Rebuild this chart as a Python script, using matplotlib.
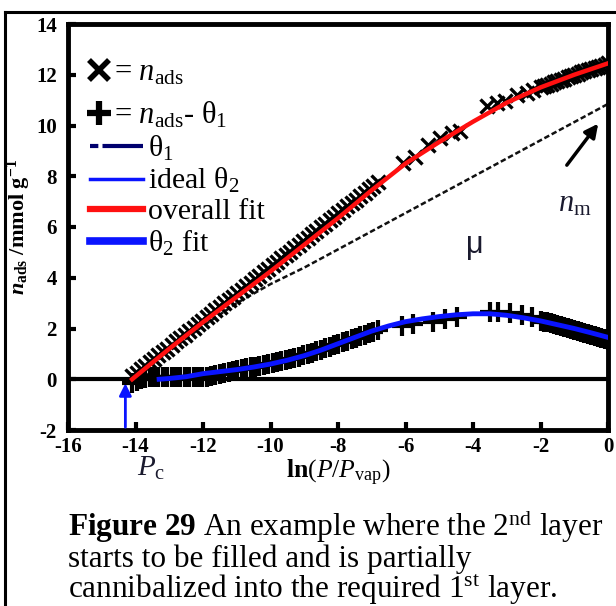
import matplotlib
matplotlib.use("Agg")
import matplotlib.pyplot as plt
from matplotlib.lines import Line2D
import numpy as np

plt.rcParams['font.family'] = ['Liberation Serif', 'DejaVu Serif']
plt.rcParams['mathtext.fontset'] = 'custom'
plt.rcParams['mathtext.rm'] = 'Liberation Serif'
plt.rcParams['mathtext.it'] = 'Liberation Serif:italic'
plt.rcParams['mathtext.bf'] = 'Liberation Serif:bold'
plt.rcParams['mathtext.bfit'] = 'Liberation Serif:italic:bold'

# n_ads (x markers), dense low-pressure run, a few sparse points, dense run near P_vap
nads_x = [-14.10, -13.97, -13.84, -13.71, -13.58, -13.45, -13.32, -13.19, -13.06, -12.93,
          -12.80, -12.67, -12.54, -12.41, -12.28, -12.15, -12.02, -11.89, -11.76, -11.63,
          -11.50, -11.37, -11.24, -11.11, -10.98, -10.85, -10.72, -10.59, -10.46, -10.33,
          -10.20, -10.07, -9.94, -9.81, -9.68, -9.55, -9.42, -9.29, -9.16, -9.03,
          -8.90, -8.77, -8.64, -8.51, -8.38, -8.25, -8.12, -7.99, -7.86, -7.73,
          -7.60, -7.47, -7.34, -7.21, -7.08, -6.95, -6.82,
          -6.07, -5.72, -5.33, -4.98, -4.62, -4.39, -3.59, -3.29, -3.05, -2.70, -2.40, -2.22,
          -2.0, -1.9, -1.8, -1.7, -1.6, -1.5, -1.4, -1.3, -1.2, -1.1, -1.0,
          -0.9, -0.8, -0.7, -0.6, -0.5, -0.4, -0.3, -0.2, -0.1, 0.0]
nads_y = [0.12, 0.26, 0.39, 0.53, 0.67, 0.80, 0.94, 1.08, 1.21, 1.35,
          1.49, 1.62, 1.76, 1.89, 2.03, 2.17, 2.30, 2.44, 2.58, 2.71,
          2.85, 2.99, 3.12, 3.26, 3.40, 3.53, 3.67, 3.81, 3.94, 4.08,
          4.22, 4.35, 4.49, 4.62, 4.76, 4.90, 5.03, 5.17, 5.31, 5.44,
          5.58, 5.72, 5.85, 5.99, 6.13, 6.26, 6.40, 6.54, 6.67, 6.81,
          6.95, 7.08, 7.22, 7.35, 7.49, 7.63, 7.76,
          8.54, 8.74, 9.25, 9.50, 9.70, 9.80, 10.75, 10.87, 10.98, 11.20, 11.30, 11.40,
          11.50, 11.55, 11.60, 11.65, 11.70, 11.75, 11.80, 11.85, 11.90, 11.95, 12.00,
          12.04, 12.09, 12.13, 12.18, 12.22, 12.27, 12.31, 12.36, 12.40, 12.45]

# n_ads - theta_1 (+ markers)
diff_x = [-14.10, -13.97, -13.84, -13.71, -13.58, -13.45, -13.32, -13.19, -13.06, -12.93,
          -12.80, -12.67, -12.54, -12.41, -12.28, -12.15, -12.02, -11.89, -11.76, -11.63,
          -11.50, -11.37, -11.24, -11.11, -10.98, -10.85, -10.72, -10.59, -10.46, -10.33,
          -10.20, -10.07, -9.94, -9.81, -9.68, -9.55, -9.42, -9.29, -9.16, -9.03,
          -8.90, -8.77, -8.64, -8.51, -8.38, -8.25, -8.12, -7.99, -7.86, -7.73,
          -7.60, -7.47, -7.34, -7.21, -7.08, -6.95, -6.82,
          -6.10, -5.78, -5.19, -4.83, -4.47, -3.50, -3.26, -2.90, -2.55, -2.25,
          -2.0, -1.9, -1.8, -1.7, -1.6, -1.5, -1.4, -1.3, -1.2, -1.1, -1.0,
          -0.9, -0.8, -0.7, -0.6, -0.5, -0.4, -0.3, -0.2, -0.1, 0.0]
diff_y = [-0.15, -0.08, 0.00, 0.05, 0.08, 0.10, 0.10, 0.10, 0.10, 0.10,
          0.10, 0.10, 0.10, 0.10, 0.10, 0.10, 0.10, 0.10, 0.12, 0.15,
          0.20, 0.25, 0.30, 0.33, 0.36, 0.40, 0.43, 0.47, 0.50, 0.53,
          0.57, 0.60, 0.64, 0.68, 0.72, 0.76, 0.80, 0.84, 0.89, 0.94,
          0.99, 1.05, 1.10, 1.16, 1.22, 1.28, 1.34, 1.40, 1.46, 1.52,
          1.58, 1.64, 1.70, 1.76, 1.82, 1.88, 1.94,
          2.09, 2.17, 2.24, 2.36, 2.44, 2.64, 2.64, 2.60, 2.52, 2.44,
          2.30, 2.27, 2.24, 2.21, 2.17, 2.13, 2.10, 2.06, 2.02, 1.98, 1.94,
          1.90, 1.86, 1.82, 1.78, 1.74, 1.70, 1.66, 1.62, 1.58, 1.54]

# theta_1 (monolayer)
theta1_x = [-14.1, -13.0, -12.0, -11.0, -10.0, -9.0, 0.0]
theta1_y = [0.0, 1.1, 2.1, 3.0, 3.75, 4.4, 10.85]

# overall fit
fit_x = [-14.1, -13, -12, -11, -10, -9, -8, -7, -6, -5, -4, -3, -2, -1, 0]
fit_y = [0.0, 1.2, 2.25, 3.25, 4.25, 5.3, 6.35, 7.45, 8.5, 9.35, 10.15, 10.9, 11.5, 12.0, 12.45]

# theta_2 fit
t2_x = [-13.3, -13.0, -12.5, -12.0, -11.5, -11.0, -10.5, -10.0, -9.5, -9.0, -8.5, -8.0,
        -7.5, -7.0, -6.5, -6.0, -5.5, -5.0, -4.5, -4.0, -3.5, -3.0, -2.5, -2.0,
        -1.5, -1.0, -0.5, 0.0]
t2_y = [0.0, 0.03, 0.10, 0.22, 0.30, 0.38, 0.48, 0.60, 0.75, 0.93, 1.15, 1.40,
        1.65, 1.90, 2.10, 2.27, 2.38, 2.47, 2.54, 2.58, 2.58, 2.52, 2.42, 2.30,
        2.15, 2.00, 1.83, 1.65]

xticks = [-16, -14, -12, -10, -8, -6, -4, -2, 0]
yticks = [-2, 0, 2, 4, 6, 8, 10, 12, 14]

fig = plt.figure(figsize=(6.16, 6.06), dpi=100)
ax = fig.add_axes([68 / 616, 1 - 430 / 606, 540 / 616, 406 / 606])

ax.axhline(0, color='black', lw=3, zorder=1)
ax.plot(theta1_x, theta1_y, color='#111111', lw=1.8, dashes=(2.2, 1.1), zorder=2)
ax.plot(nads_x, nads_y, ls='none', marker='x', ms=10, mew=2.4, color='black', zorder=3)
ax.plot(diff_x, diff_y, ls='none', marker='+', ms=15, mew=3, color='black', zorder=3)
ax.plot(fit_x, fit_y, color='#ff1010', lw=3.2, zorder=4)
ax.plot(t2_x, t2_y, color='#0a14ff', lw=3.5, zorder=4)

ax.set_xlim(-16, 0)
ax.set_ylim(-2, 14)
ax.set_xticks(xticks)
ax.set_yticks(yticks)
ax.set_xticklabels([str(t) for t in xticks])
ax.set_yticklabels([str(t) for t in yticks])
ax.tick_params(direction='in', length=6, width=3, labelsize=15, top=False, right=False)
ax.tick_params(axis='y', pad=8)
ax.tick_params(axis='x', pad=5)
for lab in ax.get_xticklabels() + ax.get_yticklabels():
    lab.set_fontweight('bold')
for sp in ax.spines.values():
    sp.set_linewidth(3.5)

ax.set_xlabel(r'$\mathbf{ln}(P/P_{\rm vap})$', fontsize=18.5, labelpad=1)
ax.set_ylabel(r'$\mathbfit{n}_{\mathbf{ads}}\ \mathbf{/mmol\ g}^{\mathbf{-1}}$',
              fontsize=16, labelpad=2)

# marker legend
mk_handles = [Line2D([], [], ls='none', marker='x', ms=14, mew=4, color='black'),
              Line2D([], [], ls='none', marker='+', ms=17, mew=4.5, color='black')]
mk_labels = [r'= $n_{\rm ads}$', r'= $n_{\rm ads}$- θ$_1$']
leg1 = ax.legend(mk_handles, mk_labels, loc='upper left', bbox_to_anchor=(0.04, 0.915),
                 frameon=False, fontsize=22, handlelength=0.6, handletextpad=0.2,
                 borderpad=0, borderaxespad=0, labelspacing=0.4)
ax.add_artist(leg1)

ln_handles = [Line2D([], [], color='#00006e', lw=3, dashes=(2, 1, 12, 1)),
              Line2D([], [], color='#0a14ff', lw=2.5),
              Line2D([], [], color='#ff1010', lw=4.5),
              Line2D([], [], color='#0a14ff', lw=5.5)]
ln_labels = ['θ$_1$', 'ideal θ$_2$', 'overall fit', 'θ$_2$ fit']
ax.legend(ln_handles, ln_labels, loc='upper left', bbox_to_anchor=(0.04, 0.73),
          frameon=False, fontsize=21.5, handlelength=1.8, handletextpad=0.15,
          borderpad=0, borderaxespad=0, labelspacing=0.11)

ax.text(-3.94, 5.3, 'μ', family='Liberation Sans', fontsize=22, ha='center', va='center',
        color='#1a1a2e')
ax.text(-0.98, 6.9, r'$n_{\rm m}$', fontsize=22, ha='center', va='center', color='#1a1a2e')
ax.annotate('', xy=(-0.24, 10.16), xytext=(-1.27, 8.35),
            arrowprops=dict(arrowstyle='-|>', color='black', lw=2.5, mutation_scale=20))
ax.annotate('', xy=(-14.3, -0.05), xytext=(-14.3, -2.0),
            arrowprops=dict(arrowstyle='-|>', color='#0a14ff', lw=2, mutation_scale=18),
            annotation_clip=False)
ax.text(-13.55, -3.5, r'$P_{\rm c}$', fontsize=21, ha='center', va='center', color='#1a1a2e')

# outer frame
fig.add_artist(Line2D([5 / 616, 5 / 616], [0, 1 - 12 / 606], color='black', lw=2.2))
fig.add_artist(Line2D([5 / 616, 1], [1 - 12 / 606, 1 - 12 / 606], color='black', lw=2.2))

caption = [r'$\mathbf{Figure\ 29}$ An example where the 2$^{\rm nd}$ layer',
           'starts to be filled and is partially',
           r'cannibalized into the required 1$^{\rm st}$ layer.']
for i, line in enumerate(caption):
    fig.text(68 / 616, 1 - (536 + 31 * i) / 606, line, fontsize=22.5, va='baseline')

fig.savefig('out.png', dpi=100)
